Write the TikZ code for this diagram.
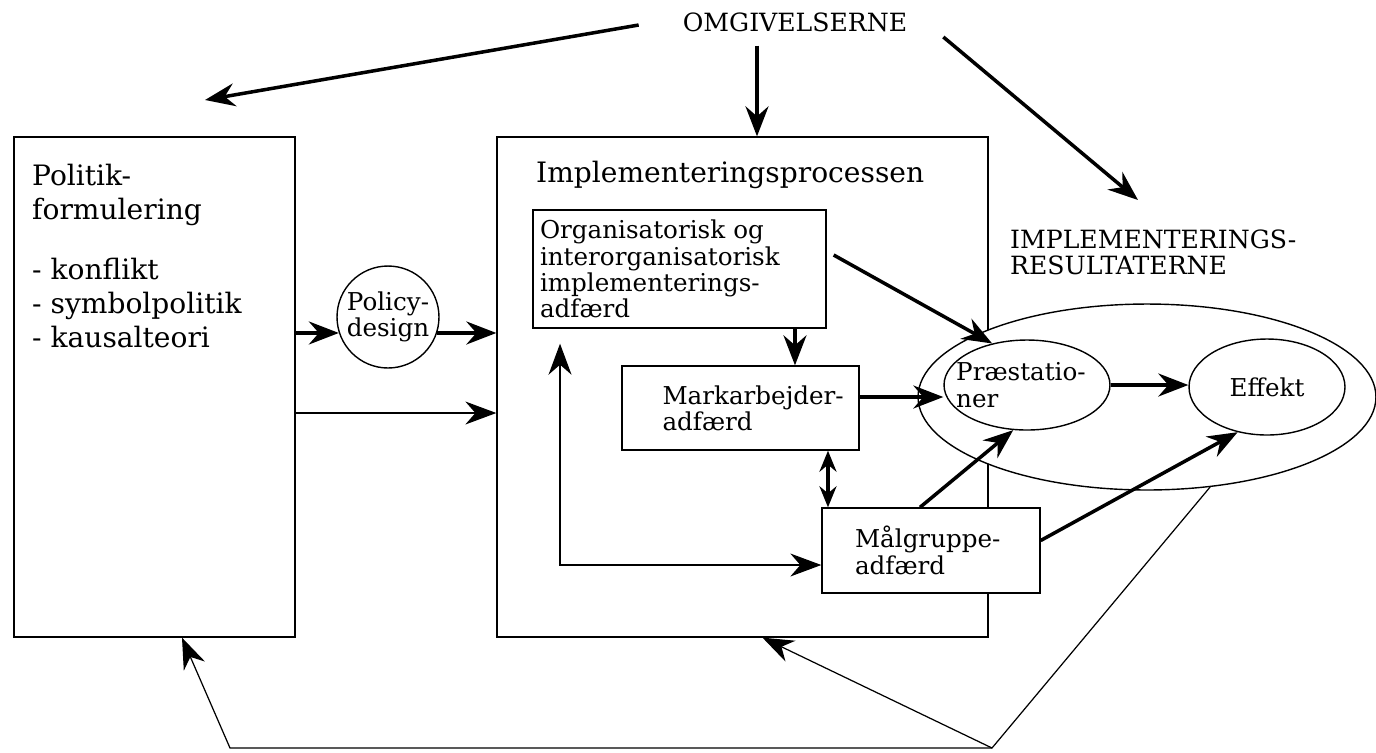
\documentclass[tikz,border=0pt]{standalone}
\usepackage{fontspec}
\setmainfont{DejaVu Serif}
\usetikzlibrary{shapes.geometric,positioning,arrows.meta}

\begin{document}
\begin{tikzpicture}[
    x=0.02cm, y=-0.02cm,
    box/.style={rectangle, draw, line width=0.8pt, fill=white},
    oval/.style={ellipse, draw, line width=0.8pt, fill=white, inner sep=0pt},
    big/.style={font=\fontsize{16}{19.3}\selectfont},
    small/.style={font=\fontsize{14}{15}\selectfont},
    caps/.style={font=\fontsize{14.3}{14.5}\selectfont},
    arrow/.style={-{Stealth[length=0.6cm,width=0.46cm,inset=0.2cm]}, line width=2pt},
    dblarrow/.style={{Stealth[length=0.42cm,width=0.34cm,inset=0.14cm]}-{Stealth[length=0.42cm,width=0.34cm,inset=0.14cm]}, line width=2pt},
    thinarrow/.style={-{Stealth[length=0.62cm,width=0.46cm,inset=0.2cm]}, line width=0.7pt},
    thinboth/.style={{Stealth[length=0.62cm,width=0.46cm,inset=0.2cm]}-{Stealth[length=0.62cm,width=0.46cm,inset=0.2cm]}, line width=0.7pt}
]
\useasboundingbox (0,0) rectangle (1376,752);

% big boxes
\node[box, minimum width=5.62cm, minimum height=10cm] (pol) at (154.5,387) {};
\node[big, align=left, anchor=north west] (poltext) at (26,158) {Politik-\\formulering\\[14.8pt]- konflikt\\- symbolpolitik\\- kausalteori};
\node[box, minimum width=9.82cm, minimum height=10cm] (impl) at (742.5,387) {};
\node[big, anchor=west] (impltext) at (530,175) {Implementeringsprocessen};

\node[circle, draw, line width=0.8pt, minimum size=2.04cm, inner sep=0pt, small, align=center] (policy) at (388,317) {Policy-\\design};

% inner boxes
\node[box, small, minimum width=5.86cm, minimum height=2.36cm, text width=5.58cm, inner xsep=0.14cm, align=left] (org) at (679.5,269) {Organisatorisk og\\interorganisatorisk\\implementerings-\\adfærd};
\node[box, minimum width=4.74cm, minimum height=1.68cm] (mark) at (740.5,408) {};
\node[small, align=left, anchor=west] (marktext) at ([xshift=0.7cm]mark.west) {Markarbejder-\\adfærd};

% results
\node[oval, minimum width=9.16cm, minimum height=3.72cm] (res) at (1147,397) {};
\node[oval, minimum width=3.32cm, minimum height=1.8cm] (pr) at (1027,385) {};
\node[small, align=left, anchor=west] (prtext) at (950,385) {Præstatio-\\ner};
\node[oval, small, minimum width=3.12cm, minimum height=1.92cm] (eff) at (1267,387) {Effekt};
\node[caps, align=left, anchor=north west] (restext) at (1004,224) {IMPLEMENTERINGS-\\RESULTATERNE};

\node[box, minimum width=4.36cm, minimum height=1.7cm] (mal) at (931,550.5) {};
\node[small, align=left, anchor=west] (maltext) at ([xshift=0.55cm]mal.west) {Målgruppe-\\adfærd};

\node[caps] (omg) at (795,22) {OMGIVELSERNE};

\coordinate (polhead) at (205,100);
\coordinate (reshead) at (1138,200);
\coordinate (lowline) at (0,413);
\coordinate (apex) at (992,748);
\coordinate (corner) at (230,748);

% environment
\draw[arrow] ([xshift=-0.76cm,yshift=-0.06cm]omg.west) -- (polhead);
\draw[arrow] ([xshift=-0.76cm,yshift=-0.16cm]omg.south) -- ([xshift=-0.76cm]omg.south |- impl.north);
\draw[arrow] ([xshift=0.6cm,yshift=-0.3cm]omg.east) -- (reshead);

% policy chain
\draw[arrow] (pol.east |- policy.198) -- (policy.198);
\draw[arrow] (policy.-18) -- (impl.west |- policy.-18);
\draw[thinarrow] (pol.east |- lowline) -- (impl.west |- lowline);

% inside the process
\draw[arrow] ([shift={(0.14cm,0.28cm)}]org.east) -- (pr.130);
\draw[arrow] ([xshift=2.31cm]org.south) -- ([xshift=2.31cm]org.south |- mark.north);
\draw[arrow] ([yshift=0.22cm]mark.east) -- ([yshift=0.22cm]mark.east -| pr.west);
\draw[dblarrow] ([xshift=1.75cm]mark.south) -- ([xshift=1.75cm]mark.south |- mal.north);
\draw[thinboth] ([xshift=-2.39cm,yshift=-0.3cm]org.south) |- ([yshift=-0.29cm]mal.west);
\draw[arrow] ([xshift=-0.22cm]mal.north) -- (pr.-107);
\draw[arrow] ([yshift=0.2cm]mal.east) -- (eff.237);
\draw[arrow] (pr.east) -- (pr.east -| eff.west);

% feedback
\draw[thinarrow] (res.-55) -- (apex) -- (corner) -- ([xshift=0.55cm]pol.south);
\draw[thinarrow] (apex) -- ([xshift=0.4cm]impl.south);
\end{tikzpicture}
\end{document}
